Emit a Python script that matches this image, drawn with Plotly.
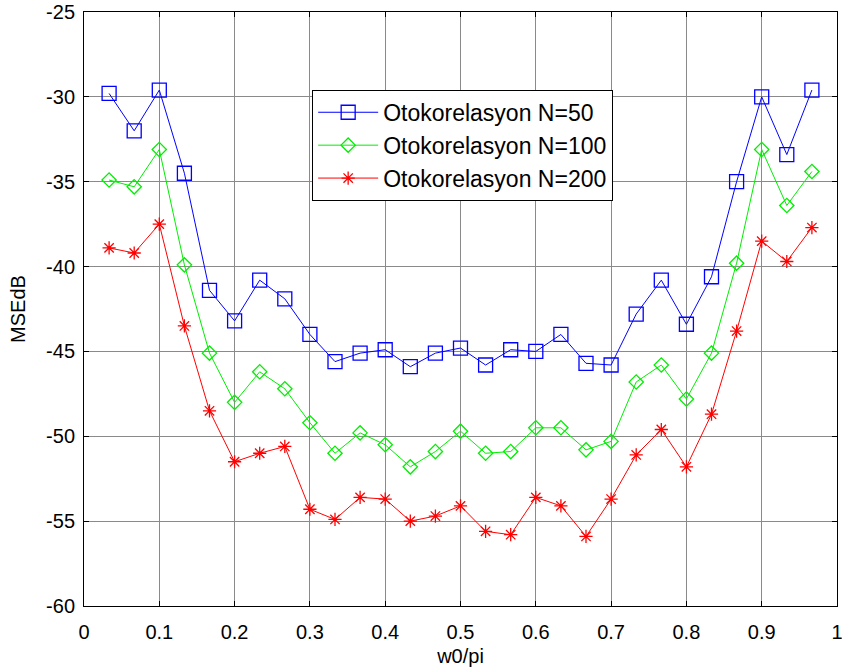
import plotly.graph_objects as go

# Normalised frequency w0/pi (k/30, k = 1..29)
w0_over_pi = [k / 30 for k in range(1, 30)]

# Mean squared error in dB for each autocorrelation record length
mse_n50 = [-29.8, -32.0, -29.6, -34.5, -41.4, -43.2, -40.8, -41.9, -44.0, -45.6,
           -45.1, -44.9, -45.9, -45.1, -44.8, -45.8, -44.9, -45.0, -44.0, -45.7,
           -45.8, -42.8, -40.8, -43.4, -40.6, -35.0, -30.0, -33.4, -29.6]
mse_n100 = [-34.9, -35.3, -33.1, -39.9, -45.1, -48.0, -46.2, -47.2, -49.2, -51.0,
            -49.8, -50.5, -51.8, -50.9, -49.7, -51.0, -50.9, -49.5, -49.5, -50.8,
            -50.3, -46.8, -45.8, -47.8, -45.1, -39.8, -33.1, -36.4, -34.4]
mse_n200 = [-38.9, -39.2, -37.5, -43.5, -48.5, -51.5, -51.0, -50.6, -54.3, -54.9,
            -53.6, -53.7, -55.0, -54.7, -54.1, -55.6, -55.8, -53.6, -54.1, -55.9,
            -53.7, -51.1, -49.6, -51.8, -48.7, -43.8, -38.5, -39.7, -37.7]

series_names = ["Otokorelasyon N=50", "Otokorelasyon N=100", "Otokorelasyon N=200"]
series_values = [mse_n50, mse_n100, mse_n200]
series_colors = ["#0000ff", "#00ee00", "#ff0000"]
series_symbols = ["square-open", "diamond-open", "asterisk-open"]
series_sizes = [14, 11, 11]

x_ticks = [i / 10 for i in range(0, 11)]
x_tick_labels = ["0", "0.1", "0.2", "0.3", "0.4", "0.5", "0.6", "0.7", "0.8", "0.9", "1"]
y_ticks = [-60, -55, -50, -45, -40, -35, -30, -25]
y_tick_labels = ["-60", "-55", "-50", "-45", "-40", "-35", "-30", "-25"]

FONT = "Liberation Sans, Arial, sans-serif"

fig = go.Figure()
for name, vals, color, sym, size in zip(series_names, series_values, series_colors,
                                        series_symbols, series_sizes):
    fig.add_trace(go.Scatter(
        x=w0_over_pi, y=vals, name=name, mode="lines+markers",
        line=dict(color=color, width=1),
        marker=dict(symbol=sym, size=size, color=color,
                    line=dict(color=color, width=1.3)),
    ))

axis_common = dict(
    showline=True, linecolor="black", linewidth=1, mirror="ticks",
    ticks="inside", ticklen=5, tickcolor="black",
    showgrid=True, gridcolor="#8a8a8a", gridwidth=1,
    zeroline=False, automargin=False, ticklabeloverflow="allow",
    tickfont=dict(family=FONT, size=20, color="black"),
)

fig.update_xaxes(
    range=[0, 1], tickvals=x_ticks, ticktext=x_tick_labels,
    title=dict(text="w0/pi", font=dict(family=FONT, size=20, color="black"), standoff=6),
    ticklabelstandoff=8,
    **axis_common,
)
fig.update_yaxes(
    range=[-60, -25], tickvals=y_ticks, ticktext=y_tick_labels,
    title=dict(text="MSEdB", font=dict(family=FONT, size=20, color="black"), standoff=15),
    ticklabelstandoff=4,
    **axis_common,
)

fig.update_layout(
    width=842, height=672,
    margin=dict(l=84, r=5, t=12, b=66),
    paper_bgcolor="white", plot_bgcolor="white",
    font=dict(family=FONT, color="black"),
    legend=dict(
        x=0.303, y=0.869, xanchor="left", yanchor="top",
        bgcolor="white", bordercolor="black", borderwidth=1,
        font=dict(family=FONT, size=23, color="black"),
        itemwidth=60,
    ),
)

fig.write_html("out.html")
